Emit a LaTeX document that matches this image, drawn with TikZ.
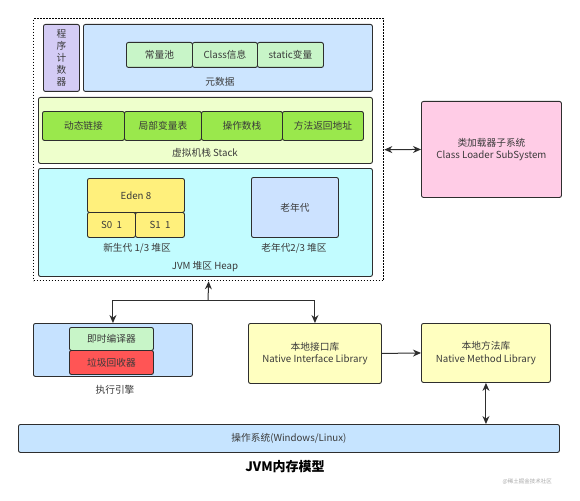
\documentclass[tikz,border=0pt]{standalone}
\usepackage{fontspec}
\setmainfont{Noto Sans CJK SC}
\usetikzlibrary{arrows.meta}
\definecolor{pcfill}{HTML}{D4CCF5}
\definecolor{metafill}{HTML}{CCE5FF}
\definecolor{lgreen}{HTML}{C8F5C8}
\definecolor{stackfill}{HTML}{EEFFCC}
\definecolor{stackin}{HTML}{9AE84C}
\definecolor{heapfill}{HTML}{C2FCFF}
\definecolor{edenfill}{HTML}{FFF07C}
\definecolor{oldfill}{HTML}{CCE2FF}
\definecolor{clfill}{HTML}{FFCCE6}
\definecolor{execfill}{HTML}{C6E2FF}
\definecolor{gcfill}{HTML}{FF5555}
\definecolor{natfill}{HTML}{FFFFC0}
\definecolor{osfill}{HTML}{C6E4FF}
\definecolor{txt}{HTML}{3A3A3A}
\definecolor{edge}{HTML}{2E2E2E}
\tikzset{
  box/.style={draw=edge, line width=0.9pt, rounded corners=2pt, anchor=north west, inner sep=0pt, text=txt, font=\fontsize{9.7}{12.5}\selectfont, align=center},
  lbl/.style={text=txt, font=\fontsize{9.7}{12.5}\selectfont, inner sep=0pt, align=center},
  arr/.style={draw=edge, line width=1pt, -{Stealth[length=8pt,width=7pt]}},
  darr/.style={draw=edge, line width=1pt, {Stealth[length=8pt,width=7pt]}-{Stealth[length=8pt,width=7pt]}}
}
\begin{document}
\begin{tikzpicture}[x=1pt,y=-1pt]
\useasboundingbox (0,0) rectangle (580,500);
% outer dotted JVM area
\node[draw=black, line width=1.3pt, dash pattern=on 1.3pt off 1.7pt, minimum width=350pt, minimum height=262pt, anchor=north west, inner sep=0pt] (jvm) at (33,18) {};
% program counter and metadata
\node[box, fill=pcfill, minimum width=36pt, minimum height=67pt, font=\fontsize{9.7}{11.8}\selectfont] (pc) at (43,24) {程\\序\\计\\数\\器};
\node[box, fill=metafill, minimum width=289pt, minimum height=67pt] (meta) at (83,24) {};
\node[box, fill=lgreen, minimum width=66pt, minimum height=25pt] (cp) at (126,42) {常量池};
\node[box, fill=lgreen, minimum width=65pt, minimum height=25pt] (ci) at (192,42) {Class信息};
\node[box, fill=lgreen, minimum width=66pt, minimum height=25pt] (sv) at (257,42) {static变量};
\node[lbl] (metal) at (220,82) {元数据};
% stack
\node[box, fill=stackfill, minimum width=334pt, minimum height=66pt] (stack) at (38,97) {};
\node[box, fill=stackin, minimum width=82pt, minimum height=29pt] (dl) at (42,111) {动态链接};
\node[box, fill=stackin, minimum width=77pt, minimum height=29pt] (lv) at (124,111) {局部变量表};
\node[box, fill=stackin, minimum width=81pt, minimum height=29pt] (os2) at (201,111) {操作数栈};
\node[box, fill=stackin, minimum width=81pt, minimum height=29pt] (ra) at (282,111) {方法返回地址};
\node[lbl] (stackl) at (205,153) {虚拟机栈 Stack};
% heap
\node[box, fill=heapfill, minimum width=334pt, minimum height=108pt] (heap) at (38,168) {};
\node[box, fill=edenfill, minimum width=97pt, minimum height=34pt] (eden) at (87,178) {Eden 8};
\node[box, fill=edenfill, minimum width=48pt, minimum height=25pt] (s0) at (87,212) {S0\ \ 1};
\node[box, fill=edenfill, minimum width=49pt, minimum height=25pt] (s1) at (135,212) {S1\ \ 1};
\node[lbl] (young) at (137,248) {新生代 1/3 堆区};
\node[box, fill=oldfill, minimum width=87pt, minimum height=60pt] (old) at (251,177) {老年代};
\node[lbl] (oldl) at (294,248) {老年代2/3 堆区};
\node[lbl] (heapl) at (205,267) {JVM 堆区 Heap};
% class loader
\node[box, fill=clfill, minimum width=140pt, minimum height=96pt] (cl) at (421,101) {类加载器子系统\\Class Loader SubSystem};
% execution engine
\node[box, fill=execfill, minimum width=159pt, minimum height=53pt] (exec) at (33,323) {};
\node[box, fill=lgreen, minimum width=84pt, minimum height=23pt] (jit) at (69,327) {即时编译器};
\node[box, fill=gcfill, minimum width=84pt, minimum height=24pt] (gc) at (69,350) {垃圾回收器};
\node[lbl] (execl) at (115,390) {执行引擎};
% native
\node[box, fill=natfill, minimum width=133pt, minimum height=60pt] (ni) at (248,323) {本地接口库\\Native Interface Library};
\node[box, fill=natfill, minimum width=129pt, minimum height=59pt] (nm) at (421,323) {本地方法库\\Native Method Library};
% OS
\node[box, fill=osfill, minimum width=541pt, minimum height=28pt] (os) at (18,424) {操作系统(Windows/Linux)};
% title and watermark
\node[inner sep=0pt, font=\fontsize{13}{15}\selectfont\bfseries] (title) at (285,467) {JVM内存模型};
\node[inner sep=0pt, anchor=east, text=black!35, font=\fontsize{5.5}{6}\selectfont] (wm) at (552,482) {@稀土掘金技术社区};
% connectors
\coordinate (hub) at (208,300);
\draw[darr] (jvm.east) -- (cl.west);
\draw[arr] (hub) -- (jvm.south);
\draw[arr] (hub) -| (exec.north);
\draw[arr] (hub) -| (ni.north);
\draw[arr] (ni.east) -- (nm.west);
\draw[darr] (nm.south) -- (nm.south |- os.north);
\end{tikzpicture}
\end{document}
